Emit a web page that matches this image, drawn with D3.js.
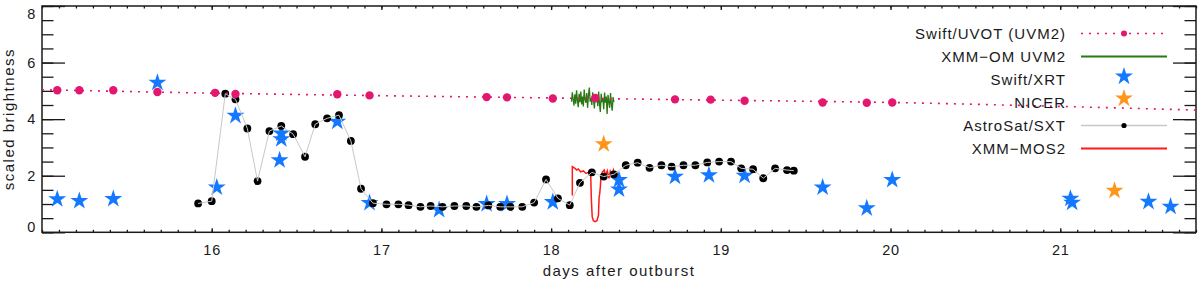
<!DOCTYPE html>
<html>
<head>
<meta charset="utf-8">
<script src="https://cdn.jsdelivr.net/npm/d3@7"></script>
<style>
  body { margin: 0; background: #fff; }
  svg { display: block; font-family: "Liberation Sans", Arial, sans-serif; }
  .axis text { font-size: 14.5px; fill: #1a1a1a; letter-spacing: 0.8px; }
  .axis line { stroke: #1a1a1a; stroke-width: 1.3; }
  .legend text { font-size: 15px; fill: #1a1a1a; letter-spacing: 1px; }
  .title { font-size: 15px; fill: #1a1a1a; letter-spacing: 1.5px; }
</style>
</head>
<body>
<svg width="1200" height="284"></svg>
<script>
// Swift/UVOT (UVM2) points
const uvotDays = [15.09, 15.22, 15.42, 15.68, 16.02, 16.14, 16.74, 16.93, 17.62, 17.74,
                  18.01, 18.26, 18.73, 18.94, 19.14, 19.60, 19.86, 20.01];
const uvotVals = [5.02, 5.02, 5.02, 4.96, 4.93, 4.89, 4.88, 4.84, 4.78, 4.77,
                  4.73, 4.75, 4.70, 4.69, 4.65, 4.59, 4.58, 4.59];

// dotted trend through the UVOT points
const trendDays = [15.0, 16.0, 17.0, 18.0, 19.0, 20.0, 21.0, 21.8];
const trendVals = [5.04, 4.92, 4.83, 4.75, 4.67, 4.59, 4.45, 4.32];

// XMM-OM UVM2 light curve
const omDays = [18.120, 18.125, 18.130, 18.135, 18.140, 18.145, 18.150, 18.155, 18.160, 18.165,
                18.170, 18.175, 18.180, 18.185, 18.190, 18.195, 18.200, 18.205, 18.210, 18.215,
                18.220, 18.225, 18.230, 18.235, 18.240, 18.245, 18.250, 18.255, 18.260, 18.265,
                18.270, 18.275, 18.280, 18.285, 18.290, 18.295, 18.300, 18.305, 18.310, 18.315,
                18.320, 18.325, 18.330, 18.335, 18.340, 18.345, 18.350, 18.355, 18.360, 18.365, 18.370];
const omVals = [4.62, 4.95, 4.70, 4.48, 4.88, 4.55, 5.02, 4.66, 4.42, 4.90,
                4.60, 4.98, 4.52, 4.80, 4.45, 5.05, 4.70, 4.58, 4.92, 4.40,
                4.85, 5.12, 4.62, 4.75, 4.50, 4.95, 4.68, 4.38, 4.88, 4.60,
                4.82, 4.46, 4.98, 4.55, 4.25, 4.90, 4.65, 4.72, 4.35, 4.94,
                4.58, 4.80, 4.18, 4.86, 4.62, 4.40, 4.92, 4.55, 4.30, 4.78, 4.60];

// Swift/XRT stars
const xrtDays = [15.09, 15.22, 15.42, 15.68, 16.03, 16.14, 16.40, 16.41, 16.41, 16.74,
                 16.93, 17.34, 17.62, 17.74, 18.01, 18.40, 18.40, 18.73, 18.93, 19.14,
                 19.60, 19.86, 20.01, 21.06, 21.07, 21.52, 21.65];
const xrtVals = [1.17, 1.11, 1.18, 5.29, 1.59, 4.12, 2.55, 3.29, 3.50, 3.91,
                 1.04, 0.79, 1.00, 1.00, 1.07, 1.85, 1.52, 1.97, 2.02, 2.00,
                 1.59, 0.85, 1.85, 1.19, 1.05, 1.08, 0.91];

// NICER stars
const nicerDays = [18.31, 21.32];
const nicerVals = [3.12, 1.47];

// AstroSat/SXT points
const sxtDays = [15.92, 16.00, 16.08, 16.14, 16.21, 16.27, 16.34, 16.41, 16.48, 16.55,
                 16.61, 16.68, 16.75, 16.82, 16.88, 16.95, 17.03, 17.10, 17.16, 17.23,
                 17.29, 17.36, 17.43, 17.50, 17.56, 17.63, 17.70, 17.76, 17.83, 17.90,
                 17.97, 18.04, 18.11, 18.17, 18.24, 18.31, 18.37, 18.44, 18.51, 18.58,
                 18.65, 18.71, 18.78, 18.85, 18.92, 18.99, 19.06, 19.12, 19.19, 19.25,
                 19.32, 19.39, 19.43];
const sxtVals = [1.02, 1.10, 4.90, 4.70, 3.67, 1.81, 3.58, 3.76, 3.47, 2.67,
                 3.82, 4.03, 4.14, 3.23, 1.54, 1.03, 0.99, 0.99, 0.96, 0.90,
                 0.93, 0.90, 0.93, 0.93, 0.90, 0.95, 0.90, 0.90, 0.90, 1.05,
                 1.87, 1.20, 0.96, 1.75, 2.12, 1.97, 2.05, 2.37, 2.46, 2.28,
                 2.37, 2.32, 2.37, 2.37, 2.47, 2.50, 2.50, 2.26, 2.23, 1.91,
                 2.26, 2.20, 2.18];

// XMM-MOS2 light curve
const mosDays = [18.125, 18.125, 18.141, 18.151, 18.160, 18.174, 18.190, 18.206, 18.221, 18.233,
                 18.237, 18.242, 18.249, 18.260, 18.270, 18.279, 18.283, 18.286, 18.290, 18.294,
                 18.304, 18.313, 18.322, 18.331, 18.341, 18.349, 18.359, 18.367, 18.375];
const mosVals = [1.30, 2.32, 2.26, 2.20, 2.24, 2.14, 2.17, 2.08, 2.12, 2.08,
                 1.20, 0.55, 0.41, 0.38, 0.41, 0.60, 1.26, 1.34, 1.60, 2.02,
                 2.14, 2.20, 2.00, 2.17, 1.91, 2.17, 2.08, 2.20, 1.88];

const xMajorTicks = [16, 17, 18, 19, 20, 21];
const yMajorTicks = [0, 2, 4, 6, 8];

const legendLabels = ["Swift/UVOT (UVM2)", "XMM\u2212OM UVM2", "Swift/XRT", "NICER", "AstroSat/SXT", "XMM\u2212MOS2"];

const pink = "#e3176f", green = "#2a7a14", blue = "#1479ff", orange = "#ff961c",
      grey = "#c8c8c8", red = "#ff1a1a";

document.addEventListener('DOMContentLoaded', function () {
    const svg = d3.select("svg");
    const frame = { left: 42, right: 1196, top: 6, bottom: 232.3 };

    const x = d3.scaleLinear().domain([15, 21.8]).range([frame.left, frame.right]);
    const y = d3.scaleLinear().domain([0, 8]).range([frame.bottom, frame.top]);

    const zip = (a, b) => a.map((d, i) => [d, b[i]]);
    const line = d3.line().x(d => x(d[0])).y(d => y(d[1]));
    const star = d3.symbol().type(d3.symbolStar).size(100);
    const noDomain = g => g.select(".domain").remove();

    // ==== axes, ticks pointing inward ====
    svg.append("g").attr("class", "axis")
        .attr("transform", `translate(0,${frame.bottom})`)
        .call(d3.axisBottom(x).tickValues(xMajorTicks).tickSize(-4).tickSizeOuter(0)
            .tickPadding(12).tickFormat(d3.format("d")))
        .call(noDomain);
    svg.append("g").attr("class", "axis")
        .attr("transform", `translate(0,${frame.bottom})`)
        .call(d3.axisBottom(x).ticks(70).tickSize(-2.5).tickSizeOuter(0).tickFormat(""))
        .call(noDomain);
    svg.append("g").attr("class", "axis")
        .attr("transform", `translate(0,${frame.top})`)
        .call(d3.axisTop(x).tickValues(xMajorTicks).tickSize(-4).tickSizeOuter(0).tickFormat(""))
        .call(noDomain);
    svg.append("g").attr("class", "axis")
        .attr("transform", `translate(0,${frame.top})`)
        .call(d3.axisTop(x).ticks(70).tickSize(-2.5).tickSizeOuter(0).tickFormat(""))
        .call(noDomain);

    const yLeft = svg.append("g").attr("class", "axis")
        .attr("transform", `translate(${frame.left},0)`)
        .call(d3.axisLeft(y).tickValues(yMajorTicks).tickSize(-23).tickSizeOuter(0).tickPadding(6))
        .call(noDomain);
    // keep the end labels inside the frame like the original
    yLeft.selectAll(".tick text")
        .attr("dy", d => d === 0 ? "-0.05em" : d === 8 ? "0.85em" : "0.32em");
    svg.append("g").attr("class", "axis")
        .attr("transform", `translate(${frame.left},0)`)
        .call(d3.axisLeft(y).ticks(16).tickSize(-11.5).tickSizeOuter(0).tickFormat(""))
        .call(noDomain);
    svg.append("g").attr("class", "axis")
        .attr("transform", `translate(${frame.right},0)`)
        .call(d3.axisRight(y).tickValues(yMajorTicks).tickSize(-23).tickSizeOuter(0).tickFormat(""))
        .call(noDomain);
    svg.append("g").attr("class", "axis")
        .attr("transform", `translate(${frame.right},0)`)
        .call(d3.axisRight(y).ticks(16).tickSize(-11.5).tickSizeOuter(0).tickFormat(""))
        .call(noDomain);

    svg.append("rect")
        .attr("x", frame.left).attr("y", frame.top)
        .attr("width", frame.right - frame.left).attr("height", frame.bottom - frame.top)
        .attr("fill", "none").attr("stroke", "#1a1a1a").attr("stroke-width", 1.5);

    svg.append("text").attr("class", "title")
        .attr("x", (frame.left + frame.right) / 2).attr("y", 276)
        .attr("text-anchor", "middle")
        .text("days after outburst");
    svg.append("text").attr("class", "title")
        .attr("transform", `translate(14,${(frame.top + frame.bottom) / 2}) rotate(-90)`)
        .attr("text-anchor", "middle")
        .text("scaled brightness");

    // ==== data ====
    const plot = svg.append("g");

    plot.append("path").datum(zip(mosDays, mosVals))
        .attr("d", line).attr("fill", "none").attr("stroke", red).attr("stroke-width", 1.5);

    plot.append("path").datum(zip(omDays, omVals))
        .attr("d", line).attr("fill", "none").attr("stroke", green).attr("stroke-width", 1.3);

    plot.selectAll(".xrt").data(zip(xrtDays, xrtVals)).enter().append("path")
        .attr("class", "xrt")
        .attr("transform", d => `translate(${x(d[0])},${y(d[1])})`)
        .attr("d", star).attr("fill", blue);

    plot.selectAll(".nicer").data(zip(nicerDays, nicerVals)).enter().append("path")
        .attr("class", "nicer")
        .attr("transform", d => `translate(${x(d[0])},${y(d[1])})`)
        .attr("d", star).attr("fill", orange);

    const sxt = zip(sxtDays, sxtVals);
    plot.selectAll(".sxt").data(sxt).enter().append("circle")
        .attr("class", "sxt")
        .attr("cx", d => x(d[0])).attr("cy", d => y(d[1])).attr("r", 3.9)
        .attr("fill", "#000");
    plot.append("path").datum(sxt)
        .attr("d", line).attr("fill", "none").attr("stroke", grey).attr("stroke-width", 1);

    plot.append("path").datum(zip(trendDays, trendVals))
        .attr("d", d3.line().x(d => x(d[0])).y(d => y(d[1])).curve(d3.curveMonotoneX))
        .attr("fill", "none").attr("stroke", pink).attr("stroke-width", 1.6)
        .attr("stroke-dasharray", "2,6");

    plot.selectAll(".uvot").data(zip(uvotDays, uvotVals)).enter().append("circle")
        .attr("class", "uvot")
        .attr("cx", d => x(d[0])).attr("cy", d => y(d[1])).attr("r", 4.2)
        .attr("fill", pink);

    // ==== legend ====
    const legend = svg.append("g").attr("class", "legend");
    const rowY = i => 33.5 + i * 23;
    const lx0 = 1081, lx1 = 1167, lxm = 1124;

    legend.selectAll("text").data(legendLabels).enter().append("text")
        .attr("x", 1066).attr("y", (d, i) => rowY(i)).attr("dy", "0.35em")
        .attr("text-anchor", "end").text(d => d);

    legend.append("line").attr("x1", lx0).attr("x2", lx1).attr("y1", rowY(0)).attr("y2", rowY(0))
        .attr("stroke", pink).attr("stroke-width", 1.6).attr("stroke-dasharray", "2,6");
    legend.append("circle").attr("cx", lxm).attr("cy", rowY(0)).attr("r", 3).attr("fill", pink);
    legend.append("line").attr("x1", lx0).attr("x2", lx1).attr("y1", rowY(1)).attr("y2", rowY(1))
        .attr("stroke", green).attr("stroke-width", 2);
    legend.append("path").attr("transform", `translate(${lxm},${rowY(2) - 3})`)
        .attr("d", star).attr("fill", blue);
    legend.append("path").attr("transform", `translate(${lxm},${rowY(3) - 4})`)
        .attr("d", star).attr("fill", orange);
    legend.append("line").attr("x1", lx0).attr("x2", lx1).attr("y1", rowY(4)).attr("y2", rowY(4))
        .attr("stroke", grey).attr("stroke-width", 1.5);
    legend.append("circle").attr("cx", lxm).attr("cy", rowY(4)).attr("r", 2.6).attr("fill", "#000");
    legend.append("line").attr("x1", lx0).attr("x2", lx1).attr("y1", rowY(5)).attr("y2", rowY(5))
        .attr("stroke", red).attr("stroke-width", 2);
});
</script>
</body>
</html>
